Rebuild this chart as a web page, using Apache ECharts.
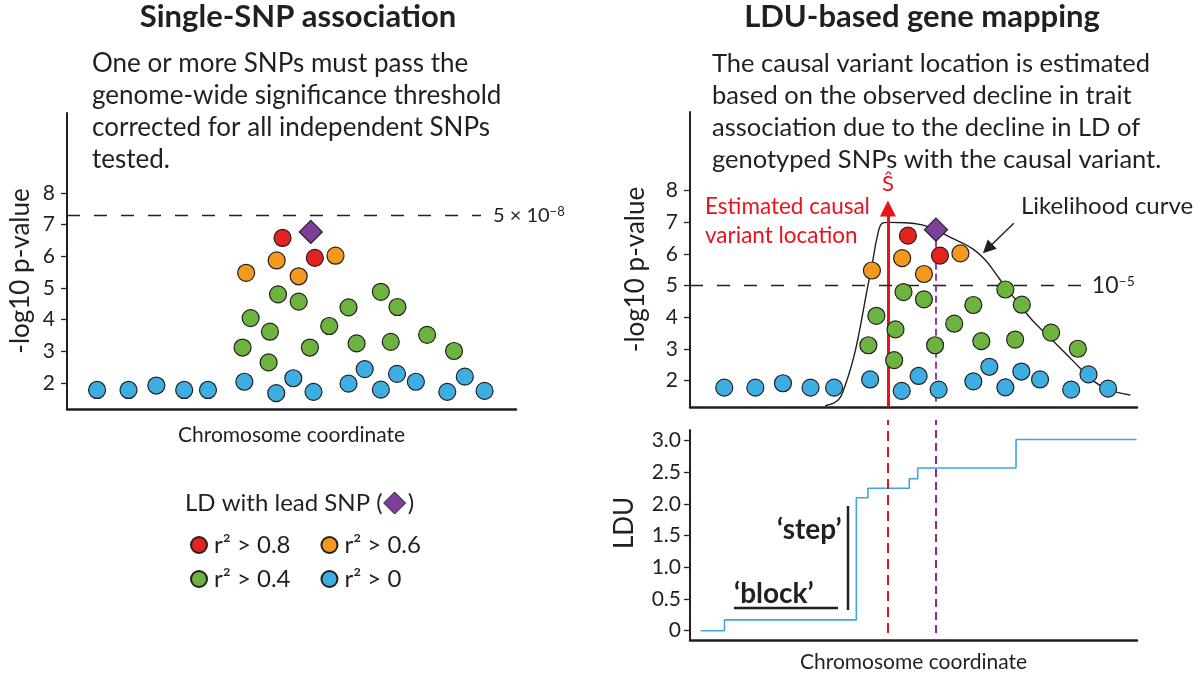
<!DOCTYPE html>
<html><head><meta charset="utf-8">
<script src="https://cdn.jsdelivr.net/npm/echarts@6/dist/echarts.min.js"></script>
<style>html,body{margin:0;padding:0;background:#fff}#c{width:1200px;height:679px}</style>
</head><body><div id="c"></div>
<script>
// ---- data (chromosome coordinate in arbitrary units 0-100, -log10 p) ----
const blueX   = [6.7, 13.7, 19.9, 26.1, 31.4, 39.5, 46.6, 50.4, 54.9, 62.7, 66.3, 69.9, 73.5, 77.7, 84.7, 88.6, 93.0];
const blueY   = [1.78, 1.78, 1.92, 1.78, 1.78, 2.04, 1.68, 2.15, 1.72, 1.98, 2.44, 1.79, 2.29, 2.04, 1.72, 2.20, 1.75];
const greenX  = [39.1, 40.9, 44.9, 45.2, 47.0, 51.6, 54.1, 58.4, 62.7, 64.5, 69.9, 72.1, 73.6, 80.2, 86.2];
const greenY  = [3.12, 4.05, 2.65, 3.62, 4.80, 4.57, 3.12, 3.80, 4.39, 3.25, 4.88, 3.30, 4.40, 3.52, 3.01];
const orangeX = [39.9, 46.7, 51.6, 59.8];
const orangeY = [5.48, 5.87, 5.37, 6.02];
const redX    = [48.0, 55.2];
const redY    = [6.58, 5.95];
const leadX   = [54.3];
const leadY   = [6.77];
// likelihood curve (right panel)
const curveX  = [29.4, 32.3, 33.8, 35.7, 37.0, 38.8, 40.0, 41.1, 42.2, 43.7, 47.5, 51.2, 54.2, 57.9, 62.4, 65.4, 67.7, 69.6, 72.9, 75.9, 78.9, 83.4, 86.4, 89.4, 93.2, 98.0];
const curveY  = [1.21, 1.39, 1.82, 2.68, 3.50, 4.86, 5.71, 6.55, 6.97, 7.00, 6.99, 6.92, 6.76, 6.50, 6.18, 5.81, 5.39, 5.02, 4.44, 3.92, 3.50, 2.87, 2.44, 2.02, 1.71, 1.55];
// LDU map (step function)
const lduX    = [1.4, 6.75, 36.4, 39.0, 48.3, 50.2, 72.3, 99.4];
const lduY    = [0, 0.17, 2.10, 2.25, 2.40, 2.57, 3.02, 3.02];
const estX    = 43.5;          // estimated causal variant location
const gwThreshold = 7.3;       // 5e-8
const sugThreshold = 5;        // 1e-5
const pTicks  = [2, 3, 4, 5, 6, 7, 8];
const lduTicks = [0, 0.5, 1, 1.5, 2, 2.5, 3];

// ---- styles ----
const C = '#231f20', FONT = 'Lato';
const RED = '#e42320', ORANGE = '#f39a1e', GREEN = '#6db33f', BLUE = '#3eaee2', PURPLE = '#7d3f97';
const RED_LINE = '#e8141c', PURPLE_LINE = '#93278f', LDU_BLUE = '#3ea6e0';

const pairs = (xs, ys) => xs.map((x, i) => [x, ys[i]]);
const xBase = {
  type: 'value', axisLine: {show: true, onZero: false, lineStyle: {color: C, width: 2.5}},
  axisTick: {show: false}, axisLabel: {show: false}, splitLine: {show: false},
  nameLocation: 'middle', nameTextStyle: {fontSize: 21, color: C, fontFamily: FONT}
};
const yBase = (ticks, fmt, margin) => ({
  type: 'value', axisLine: {show: true, onZero: false, lineStyle: {color: C, width: 2}},
  axisTick: {show: true, length: 6, lineStyle: {color: C, width: 1.3}, customValues: ticks},
  axisLabel: {customValues: ticks, fontSize: 21, color: C, margin: margin, formatter: fmt},
  splitLine: {show: false}, nameLocation: 'middle', nameRotate: 90
});
function sc(name, xs, ys, color, gi, extra) {
  return Object.assign({
    type: 'scatter', name, xAxisIndex: gi, yAxisIndex: gi, data: pairs(xs, ys),
    symbol: 'circle', symbolSize: 17, z: 10, silent: true,
    itemStyle: {color, borderColor: C, borderWidth: 1.2, opacity: 1}
  }, extra || {});
}
const leadStyle = {symbol: 'diamond', symbolSize: [23, 23]};

const series = [];
// left panel
series.push(sc('r² > 0', blueX, blueY, BLUE, 0, {
  markLine: {silent: true, z: 4, symbol: 'none', emphasis: {disabled: true},
    lineStyle: {color: C, width: 1.3, type: [13, 14]},
    label: {show: true, position: 'end', distance: 12, formatter: '{a|5 × 10}{b|−8}',
      rich: {a: {fontSize: 20, color: C, fontFamily: FONT}, b: {fontSize: 13, color: C, verticalAlign: 'top', fontFamily: FONT}}},
    data: [[{coord: [0, gwThreshold]}, {coord: [92.2, gwThreshold]}]]}
}));
series.push(sc('r² > 0.4', greenX, greenY, GREEN, 0));
series.push(sc('r² > 0.6', orangeX, orangeY, ORANGE, 0));
series.push(sc('r² > 0.8', redX, redY, RED, 0));
series.push(sc('lead SNP', leadX, leadY, PURPLE, 0, leadStyle));

// right panel
series.push({
  type: 'line', name: 'Likelihood curve', xAxisIndex: 1, yAxisIndex: 1, data: pairs(curveX, curveY),
  smooth: 0.4, symbol: 'none', showSymbol: false, silent: true, z: 3,
  lineStyle: {color: C, width: 1.4},
  markLine: {silent: true, z: 4, emphasis: {disabled: true}, symbol: ['none', 'triangle'], symbolSize: 16,
    lineStyle: {color: RED_LINE, width: 3, type: 'solid'},
    label: {show: true, position: 'end', formatter: 'Ŝ', color: RED_LINE, fontSize: 22, distance: 14, fontFamily: FONT},
    data: [[{coord: [estX, 1.17]}, {coord: [estX, 7.44]}]]}
});
series.push(sc('r² > 0', blueX, blueY, BLUE, 1, {
  markLine: {silent: true, z: 4, symbol: 'none', emphasis: {disabled: true},
    lineStyle: {color: C, width: 1.3, type: [13, 14]},
    label: {show: true, position: 'end', distance: 6, formatter: '{a|10}{b|−5}',
      rich: {a: {fontSize: 23, color: C, fontFamily: FONT}, b: {fontSize: 14, color: C, verticalAlign: 'top', fontFamily: FONT}}},
    data: [[{coord: [-1, sugThreshold]}, {coord: [88, sugThreshold]}]]}
}));
series.push(sc('r² > 0.4', greenX, greenY, GREEN, 1, {
  markLine: {silent: true, z: 4, emphasis: {disabled: true}, symbol: ['none', 'triangle'], symbolSize: 13,
    lineStyle: {color: C, width: 1.4, type: 'solid'}, label: {show: false},
    data: [[{coord: [71.8, 6.97]}, {coord: [65.9, 6.17]}]]}
}));
series.push(sc('r² > 0.6', orangeX, orangeY, ORANGE, 1));
series.push(sc('r² > 0.8', redX, redY, RED, 1));
series.push(sc('lead SNP', leadX, leadY, PURPLE, 1, Object.assign({}, leadStyle, {
  markLine: {silent: true, z: 4, emphasis: {disabled: true}, symbol: 'none', label: {show: false},
    lineStyle: {color: PURPLE_LINE, width: 1.8, type: [7, 4]},
    data: [[{coord: [leadX[0], leadY[0]]}, {coord: [leadX[0], 1.17]}]]}
})));

// LDU panel
series.push({
  type: 'line', name: 'LDU', xAxisIndex: 2, yAxisIndex: 2, data: pairs(lduX, lduY), step: 'end',
  symbol: 'none', showSymbol: false, silent: true, lineStyle: {color: LDU_BLUE, width: 1.6}
});
// guide lines through the LDU panel (hidden helper grid spanning 420..633 px)
series.push({
  type: 'line', name: 'guides', xAxisIndex: 3, yAxisIndex: 3, data: [], silent: true,
  markLine: {silent: true, z: 4, emphasis: {disabled: true}, symbol: 'none', label: {show: false},
    data: [
      [{coord: [estX, 0], lineStyle: {color: RED_LINE, width: 2, type: [10, 6]}}, {coord: [estX, 1]}],
      [{coord: [leadX[0], 0], lineStyle: {color: PURPLE_LINE, width: 2, type: [8, 5]}}, {coord: [leadX[0], 1]}]
    ]}
});

// text measurement for legend header
const LEGF = 24;
const mctx = document.createElement('canvas').getContext('2d');
mctx.font = LEGF + 'px ' + FONT;
const hdr = 'LD with lead SNP (';
const hw = mctx.measureText(hdr).width;
const hx = 185, hy = 503;

const T = (text, x, y, font, fill, align) => ({
  type: 'text', silent: true,
  style: {text, x, y, font, fill: fill || C, textAlign: align || 'left', textVerticalAlign: 'middle'}
});

const graphic = [
  T('Single-SNP association', 298, 17, 'bold 31px ' + FONT, C, 'center'),
  T('LDU-based gene mapping', 922, 17, 'bold 31px ' + FONT, C, 'center'),
  {type: 'text', silent: true, style: {text: 'One or more SNPs must pass the\ngenome-wide significance threshold\ncorrected for all independent SNPs\ntested.',
    x: 92, y: 48, font: '26px ' + FONT, fill: C, lineHeight: 32}},
  {type: 'text', silent: true, style: {text: 'The causal variant location is estimated\nbased on the observed decline in trait\nassociation due to the decline in LD of\ngenotyped SNPs with the causal variant.',
    x: 712, y: 48, font: '25.5px ' + FONT, fill: C, lineHeight: 32}},
  T(hdr, hx, hy, LEGF + 'px ' + FONT),
  {type: 'polygon', silent: true, shape: {points: [[hx + hw + 12, hy - 11], [hx + hw + 23, hy], [hx + hw + 12, hy + 11], [hx + hw + 1, hy]]},
    style: {fill: PURPLE, stroke: C, lineWidth: 1}},
  T(')', hx + hw + 25, hy, LEGF + 'px ' + FONT),
  {type: 'text', silent: true, style: {text: 'Estimated causal\nvariant location', x: 705, y: 192, font: '22.5px ' + FONT, fill: RED_LINE, lineHeight: 29}},
  T('Likelihood curve', 1021, 206, '24px ' + FONT),
  T('‘block’', 734, 594, 'bold 28px ' + FONT),
  {type: 'line', silent: true, shape: {x1: 734, y1: 608, x2: 838, y2: 608}, style: {stroke: C, lineWidth: 2.5}},
  T('‘step’', 777, 530, 'bold 28px ' + FONT),
  {type: 'line', silent: true, shape: {x1: 848, y1: 506, x2: 848, y2: 610}, style: {stroke: C, lineWidth: 2.5}}
];

const legBase = {orient: 'horizontal', left: 185, itemWidth: 20, itemHeight: 16, itemGap: 30, icon: 'circle',
  selectedMode: false, textStyle: {fontSize: LEGF, color: C, fontFamily: FONT}};

const nameStyle = (pad) => ({fontSize: 26, color: C, fontFamily: FONT, padding: pad});
const option = {
  animation: false, backgroundColor: '#fff',
  textStyle: {fontFamily: FONT, color: C},
  grid: [
    {left: 67, top: 113, width: 449, height: 296},
    {left: 690, top: 112, width: 447, height: 295},
    {left: 690, top: 430, width: 447, height: 210},
    {left: 690, top: 420, width: 447, height: 213}
  ],
  xAxis: [
    Object.assign({}, xBase, {gridIndex: 0, min: 0, max: 100, name: 'Chromosome coordinate', nameGap: 16}),
    Object.assign({}, xBase, {gridIndex: 1, min: -1, max: 99.5}),
    Object.assign({}, xBase, {gridIndex: 2, min: -1, max: 99.5, name: 'Chromosome coordinate', nameGap: 12}),
    {gridIndex: 3, type: 'value', min: -1, max: 99.5, show: false}
  ],
  yAxis: [
    Object.assign(yBase(pTicks, null, 12), {gridIndex: 0, min: 1.179, max: 10.526, name: '-log10 p-value', nameGap: 33, nameTextStyle: nameStyle([0, 20, 0, 0])}),
    Object.assign(yBase(pTicks, null, 12), {gridIndex: 1, min: 1.17, max: 10.485, name: '-log10 p-value', nameGap: 41, nameTextStyle: nameStyle([0, 20, 0, 0])}),
    Object.assign(yBase(lduTicks, v => v === 0 ? '0' : v.toFixed(1), 9), {gridIndex: 2, min: -0.147, max: 3.169, name: 'LDU', nameGap: 52, nameTextStyle: nameStyle([0, 0, 0, 24])}),
    {gridIndex: 3, type: 'value', min: 0, max: 1, show: false}
  ],
  legend: [
    Object.assign({}, legBase, {top: 528, data: ['r² > 0.8', 'r² > 0.6']}),
    Object.assign({}, legBase, {top: 562, data: ['r² > 0.4', 'r² > 0']})
  ],
  graphic,
  series
};
const chart = echarts.init(document.getElementById('c'), null, {renderer: 'canvas'});
chart.setOption(option);
</script></body></html>
